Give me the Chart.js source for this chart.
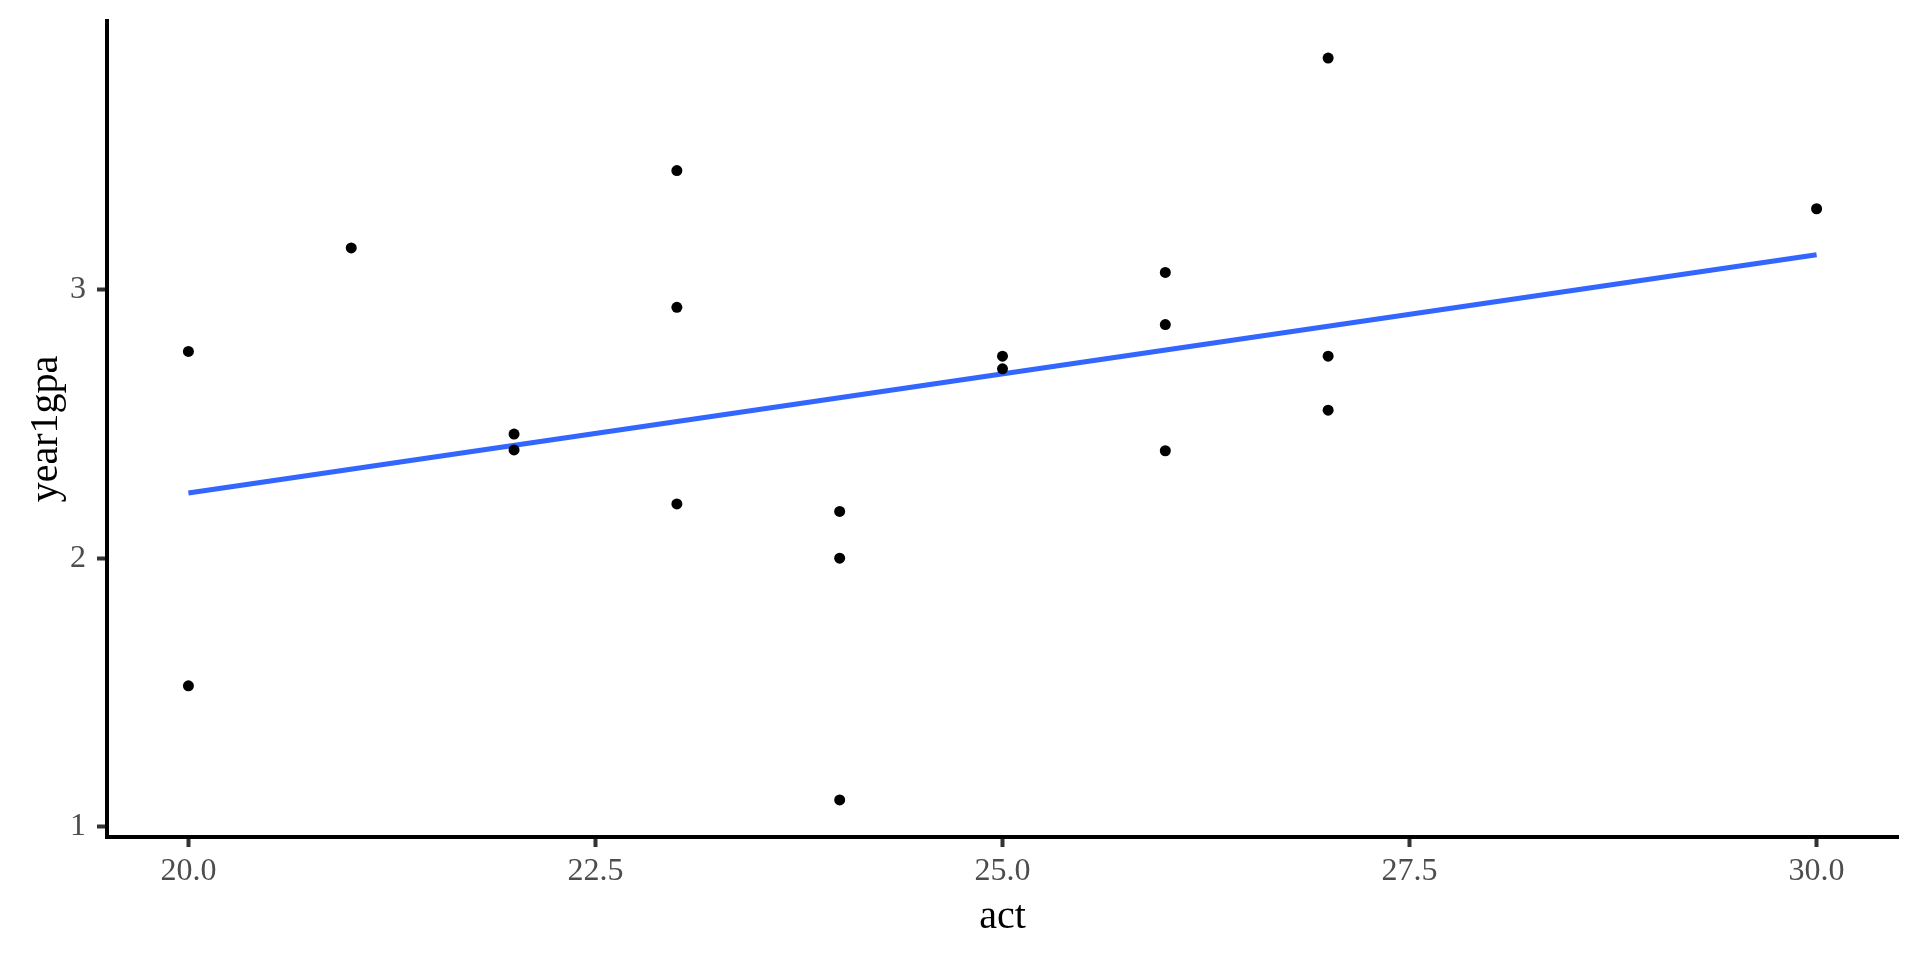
<!DOCTYPE html>
<html>
<head>
<meta charset="utf-8">
<script src="https://cdn.jsdelivr.net/npm/chart.js@4"></script>
<style>
  html, body { margin: 0; padding: 0; background: #fff; }
  #wrap { width: 1920px; height: 960px; }
</style>
</head>
<body>
<div id="wrap"><canvas id="gpaChart" width="1920" height="960"></canvas></div>
<script>
// act vs year1gpa
const act = [20, 20, 21, 22, 22, 23, 23, 23, 24, 24, 24, 25, 25, 26, 26, 26, 27, 27, 27, 30];
const gpa = [2.77, 1.525, 3.155, 2.462, 2.403, 3.443, 2.934, 2.202, 2.174, 2.0, 1.1, 2.752, 2.705, 3.064, 2.870, 2.40, 3.862, 2.752, 2.551, 3.301];

// fitted line end points
const fitX = [20, 30];
const fitY = [2.243, 3.130];

const xTicks = [20, 22.5, 25, 27.5, 30];
const yTicks = [1, 2, 3];

const points = act.map((a, i) => ({ x: a, y: gpa[i] }));
const fitLine = fitX.map((a, i) => ({ x: a, y: fitY[i] }));

const serif = 'Liberation Serif';

function axisTicks(vals) {
  return scale => { scale.ticks = vals.map(v => ({ value: v })); };
}

new Chart(document.getElementById('gpaChart'), {
  type: 'scatter',
  data: {
    datasets: [
      {
        label: 'fit',
        type: 'line',
        data: fitLine,
        borderColor: '#3366FF',
        borderWidth: 5,
        pointRadius: 0,
        fill: false,
        order: 2
      },
      {
        label: 'points',
        data: points,
        backgroundColor: '#000',
        borderWidth: 0,
        pointRadius: 5.5,
        order: 1
      }
    ]
  },
  options: {
    responsive: false,
    animation: false,
    layout: { padding: { top: 21, right: 22, left: 0, bottom: 0 } },
    plugins: {
      legend: { display: false },
      tooltip: { enabled: false }
    },
    scales: {
      x: {
        type: 'linear',
        min: 19.5,
        max: 30.5,
        afterBuildTicks: axisTicks(xTicks),
        afterFit: s => { s.height = 123; },
        border: { display: true, color: '#000', width: 4 },
        grid: { drawOnChartArea: false, tickLength: 10, tickWidth: 4, tickColor: '#333333' },
        ticks: {
          color: '#4d4d4d',
          padding: 5,
          maxRotation: 0,
          font: { family: serif, size: 32 },
          callback: v => v.toFixed(1)
        },
        title: {
          display: true,
          text: 'act',
          color: '#000',
          font: { family: serif, size: 40 },
          padding: { top: 0, bottom: 19 }
        }
      },
      y: {
        type: 'linear',
        min: 0.962,
        max: 4.0,
        afterBuildTicks: axisTicks(yTicks),
        afterFit: s => { s.width = 107; },
        border: { display: true, color: '#000', width: 4 },
        grid: { drawOnChartArea: false, tickLength: 10, tickWidth: 4, tickColor: '#333333' },
        ticks: {
          color: '#4d4d4d',
          padding: 11,
          // small line height keeps the label padding from pushing the plot down
          font: { family: serif, size: 32, lineHeight: 0.6 },
          callback: v => String(v)
        },
        title: {
          display: true,
          text: 'year1gpa',
          color: '#000',
          font: { family: serif, size: 40 },
          padding: { top: 22, bottom: 0 }
        }
      }
    }
  }
});
</script>
</body>
</html>
